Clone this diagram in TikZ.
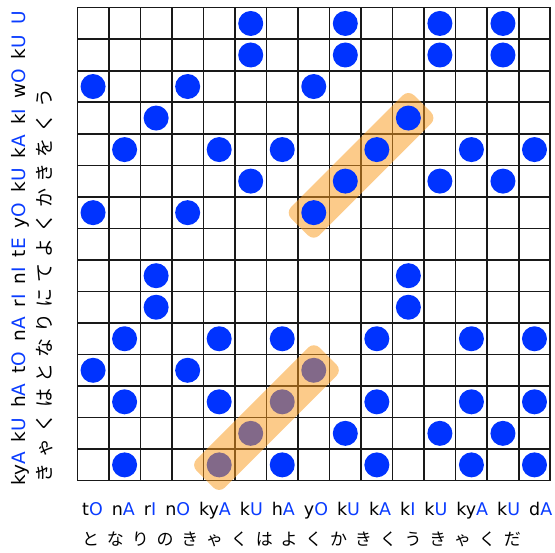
\documentclass[tikz,border=0pt]{standalone}
\usepackage{fontspec}
\setmainfont{DejaVu Sans}
\newfontfamily\jpfont{Noto Sans CJK JP}
\usetikzlibrary{calc}
\definecolor{dotblue}{RGB}{0,51,255}
\definecolor{txtblue}{RGB}{10,60,255}
\definecolor{bandorange}{RGB}{250,155,30}
\newcommand\bl[1]{\textcolor{txtblue}{#1}}
\begin{document}
\begin{tikzpicture}[x=1pt,y=-1pt,
  dot/.style={circle,fill=dotblue,inner sep=0pt,minimum size=25pt},
  hlband/.style={rectangle,rounded corners=8pt,fill=bandorange,fill opacity=0.52,minimum width=174pt,minimum height=40pt,rotate=45,inner sep=0pt},
  gridline/.style={line width=1.6pt,black!90},
  romB/.style={inner sep=0pt,anchor=base west,font=\fontsize{17.5}{20}\selectfont},
  romL/.style={inner sep=0pt,anchor=base west,rotate=90,font=\fontsize{18.5}{20}\selectfont},
  jpB/.style={inner sep=0pt,anchor=base west,font=\jpfont\fontsize{17}{20}\selectfont},
  jpL/.style={inner sep=0pt,anchor=base west,rotate=90,font=\jpfont\fontsize{19}{20}\selectfont},
]
\useasboundingbox (0,0) rectangle (555,553);
\def\X{77.3}
\def\Y{7.7}
\def\cell{31.53}
% grid
\foreach \i in {1,...,14} {
  \draw[gridline] ({\X+\i*\cell},{\Y}) -- ({\X+\i*\cell},{\Y+15*\cell});
  \draw[gridline] ({\X},{\Y+\i*\cell}) -- ({\X+15*\cell},{\Y+\i*\cell});
}
\draw[gridline] (\X,\Y) rectangle ({\X+15*\cell},{\Y+15*\cell});
% upper band (behind the dots)
\node[hlband] (bandup) at ({\X+9*\cell},{\Y+5*\cell}) {};
% dots
\foreach \r/\cols in {0/{5,8,11,13},1/{5,8,11,13},2/{0,3,7},3/{2,10},4/{1,4,6,9,12,14},5/{5,8,11,13},6/{0,3,7},8/{2,10},9/{2,10},10/{1,4,6,9,12,14},11/{0,3,7},12/{1,4,6,9,12,14},13/{5,8,11,13},14/{1,4,6,9,12,14}} {
  \foreach \cc in \cols {
    \node[dot] (d-\r-\cc) at ({\X+(\cc+0.5)*\cell},{\Y+(\r+0.5)*\cell}) {};
  }
}
% lower band (over the dots)
\node[hlband] (banddown) at ($(d-14-4)!0.5!(d-11-7)$) {};
% labels
\node[romB] (rombottom) at (82,515.5) {\spaceskip=9pt\relax t\bl{O} n\bl{A} r\bl{I} n\bl{O} ky\bl{A} k\bl{U} h\bl{A} y\bl{O} k\bl{U} k\bl{A} k\bl{I} k\bl{U} ky\bl{A} k\bl{U} d\bl{A}};
\node[jpB] (jpbottom) at (82,546) {\spaceskip=7.8pt\relax と な り の き ゃ く は よ く か き く う き ゃ く だ};
\node[romL] (romleft) at (26,486) {\spaceskip=10pt\relax ky\bl{A} k\bl{U} h\bl{A} t\bl{O} n\bl{A} r\bl{I} n\bl{I} t\bl{E} y\bl{O} k\bl{U} k\bl{A} k\bl{I} w\bl{O} k\bl{U} \bl{U}};
\node[jpL] (jpleft) at (52,483) {\spaceskip=6pt\relax き ゃ く は と な り に て よ く か き を く う};
\end{tikzpicture}
\end{document}
